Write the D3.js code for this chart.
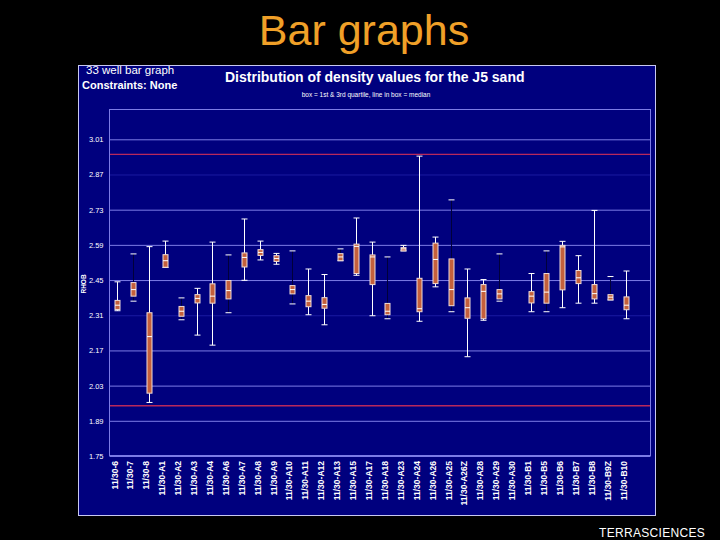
<!DOCTYPE html>
<html><head><meta charset="utf-8">
<script src="https://cdn.jsdelivr.net/npm/d3@7"></script>
<style>html,body{margin:0;padding:0;background:#000;}svg{display:block;font-family:"Liberation Sans",Arial,Helvetica,sans-serif;}</style>
</head><body><svg id="chart" width="720" height="540"></svg>
<script>
// ---- data ----
const wells = ["11/30-6","11/30-7","11/30-8","11/30-A1","11/30-A2","11/30-A3","11/30-A4","11/30-A6","11/30-A7","11/30-A8","11/30-A9",
  "11/30-A10","11/30-A11","11/30-A12","11/30-A13","11/30-A15","11/30-A17","11/30-A18","11/30-A23","11/30-A24","11/30-A26","11/30-A25",
  "11/30-A26Z","11/30-A28","11/30-A29","11/30-A30","11/30-B1","11/30-B5","11/30-B6","11/30-B7","11/30-B8","11/30-B9Z","11/30-B10"];
const whiskerHigh = [2.443,2.554,2.583,2.605,2.379,2.417,2.601,2.550,2.693,2.605,2.556,2.566,2.494,2.472,2.574,2.697,2.601,2.542,2.588,2.943,2.621,2.769,2.494,2.452,2.554,null,2.476,2.566,2.604,2.547,2.727,2.464,2.486];
const quartile3 = [2.369,2.440,2.320,2.551,2.345,2.392,2.435,2.448,2.558,2.571,2.547,2.428,2.388,2.380,2.555,2.593,2.550,2.357,2.579,2.457,2.597,2.534,2.379,2.432,2.412,null,2.404,2.476,2.588,2.488,2.432,2.392,2.383];
const median = [2.350,2.412,2.225,2.527,2.326,2.377,2.386,2.408,2.540,2.560,2.536,2.412,2.366,2.353,2.542,2.584,2.542,2.326,2.574,2.336,2.532,2.412,2.340,2.405,2.395,null,2.386,2.402,2.582,2.459,2.396,2.382,2.350];
const quartile1 = [2.333,2.386,2.000,2.501,2.306,2.359,2.358,2.375,2.502,2.548,2.524,2.395,2.344,2.338,2.527,2.476,2.432,2.312,2.566,2.324,2.436,2.348,2.298,2.296,2.375,null,2.359,2.358,2.411,2.436,2.375,2.371,2.332];
const whiskerLow = [2.328,2.366,1.963,2.500,2.292,2.231,2.191,2.320,2.449,2.530,2.513,2.355,2.312,2.272,2.527,2.469,2.308,2.296,2.566,2.286,2.423,2.324,2.145,2.290,2.366,null,2.324,2.324,2.340,2.358,2.358,2.371,2.296];
const darkWhisker = [0,1,0,0,1,0,0,1,0,0,0,1,0,0,1,0,0,1,0,0,0,1,0,0,1,0,0,1,0,0,0,1,0];
const yTicks = [1.75,1.89,2.03,2.17,2.31,2.45,2.59,2.73,2.87,3.01];
const faintTicks = [2.31,2.87];
const cutoffLines = [2.95,1.95];

// ---- layout ----
const svg = d3.select("#chart");
const navy = "#00007e", grid = "#7c7ce6", red = "#b8285c";
const plot = {x0:109.5, x1:650.5, y0:109.5, y1:455.5};

svg.append("rect").attr("width",720).attr("height",540).attr("fill","#000");
svg.append("text").attr("x",364).attr("y",45).attr("text-anchor","middle")
  .attr("font-size",43).attr("fill","#f0a028").text("Bar graphs");
svg.append("text").attr("x",705).attr("y",537).attr("text-anchor","end")
  .attr("font-size",12).attr("fill","#fff").attr("letter-spacing",0.3).text("TERRASCIENCES");

svg.append("rect").attr("x",78.5).attr("y",65.5).attr("width",577).attr("height",450)
  .attr("fill",navy).attr("stroke","#c8c8f0").attr("stroke-width",1);

svg.append("text").attr("x",86).attr("y",74).attr("font-size",11.5).attr("fill","#fff").text("33 well bar graph");
svg.append("text").attr("x",82).attr("y",89).attr("font-size",11).attr("font-weight","bold").attr("fill","#fff").text("Constraints:  None");
svg.append("text").attr("x",225).attr("y",82).attr("font-size",14).attr("font-weight","bold").attr("fill","#fff")
  .text("Distribution of density values for the J5 sand");
svg.append("text").attr("x",366).attr("y",97).attr("text-anchor","middle").attr("font-size",6.5).attr("fill","#fff")
  .text("box = 1st & 3rd quartile, line in box = median");

const y = d3.scaleLinear().domain([1.75,3.01]).range([456,139.3]);
const x = d3.scalePoint().domain(wells).range([117,626]);

// gridlines
const yAxis = d3.axisLeft(y).tickValues(yTicks).tickFormat(d3.format(".2f"))
  .tickSize(-(plot.x1-plot.x0)).tickPadding(6);
const gy = svg.append("g").attr("transform",`translate(${plot.x0},0)`).call(yAxis);
gy.select(".domain").remove();
gy.selectAll(".tick line").attr("stroke",d=>faintTicks.includes(d)?"#1a1aa0":grid).attr("stroke-width",1);
gy.selectAll(".tick text").attr("fill","#fff").attr("font-size",7.5).attr("font-family","inherit");

// cutoff lines
svg.append("g").selectAll("line").data(cutoffLines).join("line")
  .attr("x1",plot.x0).attr("x2",plot.x1).attr("y1",d=>y(d)).attr("y2",d=>y(d))
  .attr("stroke",red).attr("stroke-width",1.3);

// plot border
svg.append("rect").attr("x",plot.x0).attr("y",plot.y0).attr("width",plot.x1-plot.x0).attr("height",plot.y1-plot.y0)
  .attr("fill","none").attr("stroke",grid).attr("stroke-width",1);

svg.append("text").attr("transform",`translate(86,284) rotate(-90)`).attr("text-anchor","middle")
  .attr("font-size",6.5).attr("font-weight","bold").attr("fill","#fff").text("RHOB");

// boxes
const rows = wells.map((w,i)=>({w,hi:whiskerHigh[i],q3:quartile3[i],md:median[i],q1:quartile1[i],lo:whiskerLow[i],dark:darkWhisker[i]}))
  .filter(d=>d.md!==null);
const g = svg.append("g");
const bw = 5, cw = 6;
const item = g.selectAll("g").data(rows).join("g").attr("transform",d=>`translate(${Math.round(x(d.w))+0.5},0)`);
item.append("line").attr("y1",d=>y(d.hi)).attr("y2",d=>y(d.q3)).attr("stroke",d=>d.dark?"#00003a":"#fff").attr("stroke-width",1);
item.append("line").attr("y1",d=>y(d.q1)).attr("y2",d=>y(d.lo)).attr("stroke",d=>d.dark?"#00003a":"#fff").attr("stroke-width",1);
item.append("line").attr("x1",-cw/2).attr("x2",cw/2).attr("y1",d=>y(d.hi)).attr("y2",d=>y(d.hi)).attr("stroke","#fff").attr("stroke-width",1);
item.append("line").attr("x1",-cw/2).attr("x2",cw/2).attr("y1",d=>y(d.lo)).attr("y2",d=>y(d.lo)).attr("stroke","#fff").attr("stroke-width",1);
item.append("rect").attr("x",-bw/2).attr("width",bw).attr("y",d=>y(d.q3)).attr("height",d=>Math.max(1,y(d.q1)-y(d.q3)))
  .attr("fill","#c4603c").attr("stroke","#f0dcd8").attr("stroke-width",1);
item.append("line").attr("x1",-bw/2).attr("x2",bw/2).attr("y1",d=>y(d.md)).attr("y2",d=>y(d.md)).attr("stroke","#fff").attr("stroke-width",1);

// x labels
svg.append("g").selectAll("text").data(wells).join("text")
  .attr("transform",d=>`translate(${x(d)+0.5},461) rotate(-90)`).attr("text-anchor","end")
  .attr("font-size",8.5).attr("font-weight","bold").attr("fill","#fff").text(d=>d);
</script></body></html>
